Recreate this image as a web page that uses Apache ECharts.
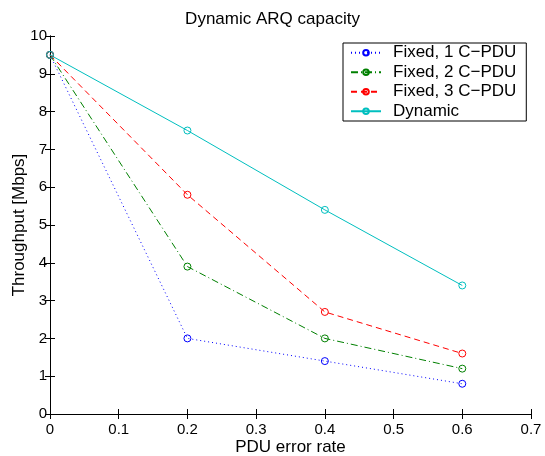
<!DOCTYPE html>
<html><head><meta charset="utf-8">
<script src="https://cdn.jsdelivr.net/npm/echarts@6/dist/echarts.min.js"></script>
<style>html,body{margin:0;padding:0;background:#fff}#c{width:545px;height:456px}</style>
</head><body><div id="c"></div>
<script>
const xValues = [0, 0.2, 0.4, 0.6];
const fixed1 = [9.5, 2.0, 1.4, 0.8];
const fixed2 = [9.5, 3.9, 2.0, 1.2];
const fixed3 = [9.5, 5.8, 2.7, 1.6];
const dynamic = [9.5, 7.5, 5.4, 3.4];
const seriesNames = ['Fixed, 1 C\u2212PDU', 'Fixed, 2 C\u2212PDU', 'Fixed, 3 C\u2212PDU', 'Dynamic'];
const seriesColors = ['#0000ff', '#008000', '#ff0000', '#00bfbf'];
const seriesDash = [[1, 3], [7, 3, 1, 3], [6, 4], 'solid'];
const seriesData = [fixed1, fixed2, fixed3, dynamic];

const font = 'Liberation Sans, Arial, Helvetica, sans-serif';
const chart = echarts.init(document.getElementById('c'), null, {renderer: 'canvas'});
const axisCommon = {
  axisLine: {show: true, lineStyle: {color: '#000', width: 1}},
  axisTick: {show: true, inside: true, length: 5, lineStyle: {color: '#000'}},
  splitLine: {show: false}
};
chart.setOption({
  backgroundColor: '#fff',
  animation: false,
  title: {text: 'Dynamic ARQ capacity', left: 'center', top: 11, padding: 0,
    textStyle: {fontFamily: font, fontSize: 17, fontWeight: 'normal', color: '#000'}},
  grid: {left: 50, right: 14, top: 36, bottom: 42, containLabel: false, outerBoundsMode: 'none'},
  legend: {
    orient: 'vertical', left: 343, top: 43,
    backgroundColor: '#fff', borderColor: '#000', borderWidth: 1,
    padding: [0, 10, 0, 7], itemGap: 0, itemWidth: 30, itemHeight: 7,
    textStyle: {fontFamily: font, fontSize: 17, color: '#000', lineHeight: 19.5, padding: [0, 0, 0, 7]},
    data: seriesNames
  },
  xAxis: [
    Object.assign({type: 'value', min: 0, max: 0.7, interval: 0.1, position: 'bottom',
      name: 'PDU error rate', nameLocation: 'middle', nameGap: 25, nameMoveOverlap: false,
      nameTextStyle: {fontFamily: font, fontSize: 17, color: '#000'},
      axisLabel: {fontFamily: font, fontSize: 15, color: '#000', margin: 8,
        formatter: v => String(Math.round(v * 10) / 10)}}, axisCommon),
    Object.assign({type: 'value', min: 0, max: 0.7, interval: 0.1, position: 'top',
      axisLabel: {show: false}}, axisCommon)
  ],
  yAxis: [
    Object.assign({type: 'value', min: 0, max: 10, interval: 1, position: 'left',
      name: 'Throughput [Mbps]', nameLocation: 'middle', nameGap: 22, nameMoveOverlap: false,
      nameTextStyle: {fontFamily: font, fontSize: 17, color: '#000'},
      axisLabel: {fontFamily: font, fontSize: 15, color: '#000', margin: 3}}, axisCommon),
    Object.assign({type: 'value', min: 0, max: 10, interval: 1, position: 'right',
      axisLabel: {show: false}}, axisCommon)
  ],
  series: seriesData.map((d, i) => ({
    name: seriesNames[i],
    type: 'line',
    xAxisIndex: 0, yAxisIndex: 0,
    data: d.map((y, j) => [xValues[j], y]),
    symbol: 'circle', symbolSize: 7,
    showAllSymbol: true,
    lineStyle: {color: seriesColors[i], width: 1, type: seriesDash[i]},
    itemStyle: {color: 'rgba(255,255,255,0)', borderColor: seriesColors[i], borderWidth: 1},
    emphasis: {disabled: true}
  }))
});
</script></body></html>
